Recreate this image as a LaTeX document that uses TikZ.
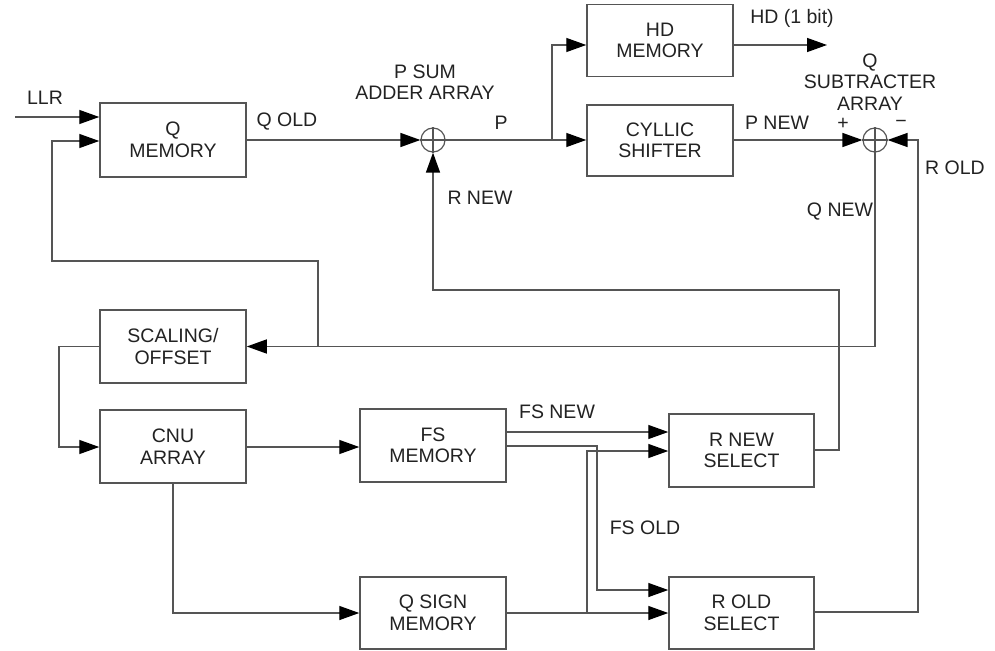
\documentclass[tikz,border=0pt]{standalone}
\usepackage{fontspec}
\setmainfont{Liberation Sans}
\usetikzlibrary{arrows.meta}
\definecolor{ln}{HTML}{555555}
\definecolor{tx}{HTML}{222222}
\begin{document}
\begin{tikzpicture}[x=1pt,y=-1pt,
  font=\fontsize{19.5}{21.5}\selectfont,
  blk/.style={draw=ln,line width=1.5pt,fill=white,minimum width=146pt,inner sep=0pt,align=center,text=tx},
  lbl/.style={text=tx,inner sep=0pt,align=center},
  wire/.style={draw=ln,line width=1.4pt},
  arr/.style={wire,-{Triangle[length=20pt,width=14pt,fill=black,color=black]}},
  sumc/.style={draw=ln,line width=1.2pt,circle,minimum size=24pt,inner sep=0pt}]
\useasboundingbox (0,0) rectangle (995,650);
% blocks
\node[blk,minimum height=74pt] (qmem) at (173,140) {Q\\MEMORY};
\node[blk,minimum height=72pt] (hdmem) at (660,40.5) {HD\\MEMORY};
\node[blk,minimum height=71pt] (cyc) at (660,140.5) {CYLLIC\\SHIFTER};
\node[blk,minimum height=73pt] (scal) at (173,346.5) {SCALING/\\OFFSET};
\node[blk,minimum height=73pt] (cnu) at (173,446.5) {CNU\\ARRAY};
\node[blk,minimum height=73pt] (fsmem) at (433,445.5) {FS\\MEMORY};
\node[blk,minimum height=72pt] (qsign) at (433,613) {Q SIGN\\MEMORY};
\node[blk,minimum width=145pt,minimum height=73pt] (rnew) at (741.5,450.5) {R NEW\\SELECT};
\node[blk,minimum width=145pt,minimum height=72pt] (rold) at (741.5,613) {R OLD\\SELECT};
% summing junctions
\node[sumc] (add) at (433,140) {};
\draw[ln,line width=1.2pt] (add.north) -- (add.south) (add.west) -- (add.east);
\node[sumc] (sub) at (875,140) {};
\draw[ln,line width=1.2pt] (sub.north) -- (sub.south) (sub.west) -- (sub.east);
% coordinates
\coordinate (llr) at (15,117);
\coordinate (y141) at (0,141);
\coordinate (fb) at (318,346.5);
\coordinate (fbt) at (318,261);
\coordinate (fbl) at (52,261);
\coordinate (pj) at (552,140);
\coordinate (y45) at (0,45);
\coordinate (hdo) at (827,45);
\coordinate (rc) at (918,140);
\coordinate (sl) at (59,346.5);
\coordinate (y447) at (0,447);
\coordinate (y432) at (0,432);
\coordinate (y446) at (0,446);
\coordinate (y451) at (0,451);
\coordinate (y450) at (0,450);
\coordinate (y590) at (0,590);
\coordinate (y612) at (0,612);
\coordinate (fsx) at (597,446);
\coordinate (qj) at (587,613);
\coordinate (rnx) at (839,450);
\coordinate (rny) at (839,290);
% connectors
\draw[arr] (llr) -- (llr -| qmem.west);
\draw[arr] (fb) -- (fbt) -- (fbl) |- (qmem.west |- y141);
\draw[arr] (qmem.east) -- (add.west);
\draw[wire] (add.east) -- (pj);
\draw[arr] (pj) -- (cyc.west |- pj);
\draw[arr] (pj) |- (hdmem.west |- y45);
\draw[arr] (hdmem.east |- y45) -- (hdo);
\draw[arr] (cyc.east |- pj) -- (sub.west);
\draw[arr] (rold.east |- y612) -| (rc) -- (sub.east);
\draw[arr] (sub.south) |- (scal.east);
\draw[arr] (scal.west) -- (sl) |- (cnu.west |- y447);
\draw[arr] (cnu.east |- y447) -- (fsmem.west |- y447);
\draw[arr] (cnu.south) |- (qsign.west);
\draw[arr] (fsmem.east |- y432) -- (rnew.west |- y432);
\draw[arr] (fsmem.east |- y446) -- (fsx) |- (rold.west |- y590);
\draw[arr] (qsign.east) -- (rold.west);
\draw[arr] (qj) |- (rnew.west |- y451);
\draw[arr] (rnew.east |- y450) -- (rnx) -- (rny) -| (add.south);
% labels
\node[lbl] at (45,98) {LLR};
\node[lbl] at (287,122) {Q OLD};
\node[lbl] at (425,82) {P SUM\\ADDER ARRAY};
\node[lbl] at (501,123) {P};
\node[lbl] at (480,198) {R NEW};
\node[lbl] at (792,18) {HD (1 bit)};
\node[lbl] at (870,82) {Q\\SUBTRACTER\\ARRAY};
\node[lbl] at (843,124) {+};
\node[lbl] at (901,124) {\textminus};
\node[lbl] at (777,123) {P NEW};
\node[lbl] at (955,168) {R OLD};
\node[lbl] at (840,212) {Q NEW};
\node[lbl] at (557,412) {FS NEW};
\node[lbl] at (645,528) {FS OLD};
\end{tikzpicture}
\end{document}
